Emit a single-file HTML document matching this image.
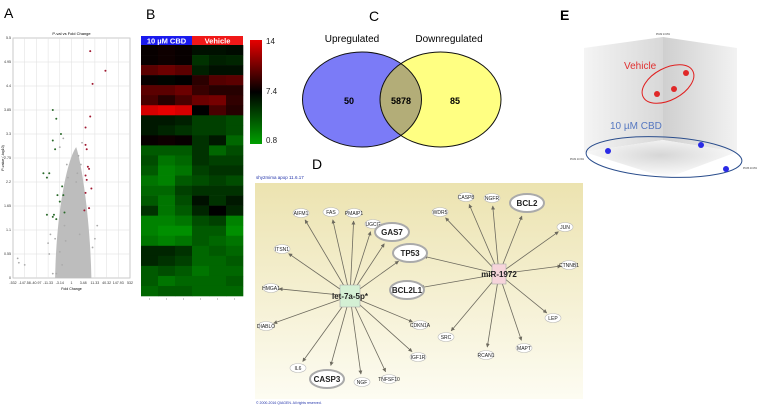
<!DOCTYPE html>
<html><head><meta charset="utf-8"><style>
body{margin:0;background:#fff;width:760px;height:408px;overflow:hidden;font-family:"Liberation Sans",sans-serif}
svg{display:block}
</style></head><body>
<svg id="fig" width="760" height="408" viewBox="0 0 760 408" xmlns="http://www.w3.org/2000/svg">
<defs>
<linearGradient id="dbg" x1="0" y1="0" x2="0" y2="1"><stop offset="0" stop-color="#ece3b0"/><stop offset="1" stop-color="#fdfcf2"/></linearGradient>
<linearGradient id="hm" x1="0" y1="0" x2="0" y2="1"><stop offset="0" stop-color="#e60000"/><stop offset="0.5" stop-color="#000"/><stop offset="1" stop-color="#00a000"/></linearGradient>
<linearGradient id="lf" x1="0" y1="0" x2="1" y2="0"><stop offset="0" stop-color="#f4f4f4"/><stop offset="1" stop-color="#d8d8d8"/></linearGradient>
<linearGradient id="rf" x1="0" y1="0" x2="1" y2="0"><stop offset="0" stop-color="#cfcfcf"/><stop offset="1" stop-color="#f2f2f2"/></linearGradient>
<radialGradient id="fl" cx="0.5" cy="0.4" r="0.6"><stop offset="0" stop-color="#d6d6d6"/><stop offset="1" stop-color="#fff"/></radialGradient>
<marker id="arr" viewBox="0 0 10 10" refX="9" refY="5" markerWidth="5" markerHeight="5" orient="auto"><path d="M0,0L10,5L0,10z" fill="#6d6a5e"/></marker>
</defs>
<g font-size="14" fill="#000">
<text x="4" y="18">A</text>
<text x="146" y="19">B</text>
<text x="369" y="21">C</text>
<text x="312" y="169">D</text>
<text x="560" y="20" font-weight="bold">E</text>
</g>
<g id="volcano"></g>
<g id="heat"></g>
<g id="venn">
<ellipse cx="362" cy="99.5" rx="59.5" ry="47.5" fill="#7b7bf7"/>
<ellipse cx="440.5" cy="99.5" rx="60.5" ry="47.5" fill="#ffff82"/>
<clipPath id="cb"><ellipse cx="362" cy="99.5" rx="59.5" ry="47.5"/></clipPath>
<ellipse cx="440.5" cy="99.5" rx="60.5" ry="47.5" fill="#b3ad78" clip-path="url(#cb)"/>
<ellipse cx="362" cy="99.5" rx="59.5" ry="47.5" fill="none" stroke="#111" stroke-width="1"/>
<ellipse cx="440.5" cy="99.5" rx="60.5" ry="47.5" fill="none" stroke="#111" stroke-width="1"/>
<text x="352" y="42" font-size="10" text-anchor="middle">Upregulated</text>
<text x="449" y="42" font-size="10" text-anchor="middle">Downregulated</text>
<text x="349" y="104" font-size="9" font-weight="bold" text-anchor="middle">50</text>
<text x="401" y="104" font-size="9" font-weight="bold" text-anchor="middle">5878</text>
<text x="455" y="104" font-size="9" font-weight="bold" text-anchor="middle">85</text>
</g>
<g id="net">
<rect x="255" y="183" width="328" height="216" fill="url(#dbg)"/>
<text x="256" y="179" font-size="4.5" fill="#2233aa">shy2mima apop 11.6.17</text>
<text x="256" y="404" font-size="3.5" fill="#2233aa">© 2000-2016 QIAGEN. All rights reserved.</text>
</g>
<g id="pca">
<polygon points="584,48 663,37 663,140 584,152" fill="url(#lf)"/>
<polygon points="663,37 737,48 737,152 663,140" fill="url(#rf)"/>
<polygon points="584,152 663,140 737,152 667,178" fill="url(#fl)"/>
<text x="663" y="35" font-size="2.5" text-anchor="middle" fill="#333">PC#2 13.8%</text>
<text x="577" y="160" font-size="2.5" text-anchor="middle" fill="#333">PC#1 10.9%</text>
<text x="750" y="169" font-size="2.5" text-anchor="middle" fill="#333">PC#3 10.8%</text>
<ellipse cx="668" cy="84" rx="28" ry="16" transform="rotate(-28 668 84)" fill="none" stroke="#e02020" stroke-width="1"/>
<ellipse cx="664" cy="157" rx="78" ry="20" transform="rotate(3 664 157)" fill="none" stroke="#2a4d8c" stroke-width="1"/>
<text x="624" y="69" font-size="10" fill="#e03030">Vehicle</text>
<text x="610" y="129" font-size="10" fill="#5577c0">10 µM CBD</text>
</g>
</svg>
<script>
var NS="http://www.w3.org/2000/svg";
function mk(p,t,a){var e=document.createElementNS(NS,t);for(var k in a)e.setAttribute(k,a[k]);p.appendChild(e);return e;}
// ---- Volcano data ----
var volXTicks=["-532","-147.58","-40.97","-11.33","-3.14","1","3.48","11.33","40.32","147.93","532"];
var volYTicks=["0","0.55","1.1","1.65","2.2","2.75","3.3","3.85","4.4","4.95","5.5"];
var upX=[1.6,2.9,1.8,1.6,1.2,1.2,1.3,1.4,1.5,1.2,1.3,1.7,1.2,1.5,1.1];
var upY=[5.2,4.75,4.45,3.7,3.45,3.05,2.95,2.55,2.5,2.35,2.25,2.05,1.95,1.6,1.55];
var downX=[-1.6,-1.3,-0.9,-1.6,-1.4,-2.4,-1.9,-2.1,-2.1,-1.5,-0.8,-1.2,-0.7,-1.0,-0.6,-1.3,-1.6];
var downY=[3.85,3.65,3.3,3.15,2.95,2.4,2.4,2.3,1.45,1.45,2.1,1.9,1.9,1.75,1.5,1.35,1.4];
var grayX=[-4.6,-4.5,-4.0,-1.9,-1.0,-0.7,-0.4,-0.3,0.6,0.8,0.9,0.5,0.4,-0.6,-1.4,-1.6,-1.3,-0.5,0.7,-1.0,-0.8,2.2,2.0,1.8,-1.8,-2.0];
var grayY=[0.45,0.35,0.3,0.55,3.0,3.2,2.6,2.3,2.8,2.6,3.1,2.4,2.2,1.2,0.9,0.1,0.1,0.85,1.0,0.6,0.3,1.2,0.9,0.7,1.0,0.8];
(function(){
 var g=document.getElementById('volcano');
 var L=13,R=130,T=38,B=278;
 function sx(v){return L+(v+5)/10*(R-L);} function sy(v){return B-v/5.5*(B-T);}
 mk(g,'rect',{x:L,y:T,width:R-L,height:B-T,fill:'#fff',stroke:'#888','stroke-width':0.6});
 for(var i=0;i<volXTicks.length;i++){var x=sx(i-5);mk(g,'line',{x1:x,y1:T,x2:x,y2:B,stroke:'#ddd','stroke-width':0.5});
  var t=mk(g,'text',{x:x,y:B+6,'font-size':3.6,'text-anchor':'middle',fill:'#333'});t.textContent=volXTicks[i];}
 for(var j=0;j<volYTicks.length;j++){var y=sy(j*0.55);mk(g,'line',{x1:L,y1:y,x2:R,y2:y,stroke:'#ddd','stroke-width':0.5});
  var t2=mk(g,'text',{x:L-2,y:y+1,'font-size':3.6,'text-anchor':'end',fill:'#333'});t2.textContent=volYTicks[j];}
 var tt=mk(g,'text',{x:(L+R)/2,y:T-3,'font-size':4,'text-anchor':'middle'});tt.textContent='P-val vs Fold Change';
 var xt=mk(g,'text',{x:(L+R)/2,y:B+12,'font-size':3.6,'text-anchor':'middle'});xt.textContent='Fold Change';
 var yt=mk(g,'text',{x:4,y:(T+B)/2,'font-size':3.6,'text-anchor':'middle',transform:'rotate(-90 4 '+(T+B)/2+')'});yt.textContent='P-value (-log10)';
 var blob=mk(g,'path',{d:'M'+sx(-1.4)+','+B+' C'+sx(-1.3)+','+sy(1.5)+' '+sx(-0.4)+','+sy(2.7)+' '+sx(0.4)+','+sy(3.0)+' C'+sx(0.9)+','+sy(2.6)+' '+sx(1.6)+','+sy(1.3)+' '+sx(1.7)+','+B+'Z',fill:'#bdbdbd'});
 
 
 for(var a=0;a<grayX.length;a++){var c=mk(g,'circle',{cx:sx(grayX[a]),cy:sy(grayY[a]),r:0.9,fill:'#aaa'});
  
  }
 for(var b=0;b<upX.length;b++){var c2=mk(g,'circle',{cx:sx(upX[b]),cy:sy(upY[b]),r:1,fill:'#a01830'});
  
  }
 for(var d=0;d<downX.length;d++){var c3=mk(g,'circle',{cx:sx(downX[d]),cy:sy(downY[d]),r:1,fill:'#2a6a2a'});
  
  }
})();
// ---- Heatmap data ----
var hmGroups=["10 µM CBD","Vehicle"];
var hmScale=["14","7.4","0.8"];
var hmRows=[
[7.6,7.8,7.6,6.8,6.8,7.0],[7.6,7.8,7.6,5.5,6.2,6.0],[10,10.5,10,6.2,6.8,6.8],[7.6,7.2,7.4,8.6,9.8,10],
[10,10,10.5,9,8.5,8.5],[9.5,8.5,9.5,10.5,10.8,8.8],[13.5,14,13.5,7.4,9.5,8.5],[6.5,6.5,6.2,5,5,4.5],
[6.5,6.0,5.5,5,5,4.5],[7.6,7.8,7.6,5.5,6.5,3.5],[4,4,4,5.5,3.5,4.5],[4.5,3,3.5,5.5,5,5],
[4,2.5,3,5,5.5,5.5],[3,2.5,4,4.5,5,4.5],[3.5,3.5,5,5.5,5.5,5.5],[4,3,4.5,6.8,5.5,6.5],
[5.5,3,4,6,7.4,6],[2.5,2.5,3,4.5,5,2.5],[2.5,2,2,4,4,2],[3,2.5,3,4,3.5,3],
[6,6,5.5,3.5,4,3.5],[6,5.5,5,3.5,3.5,4],[4,4.5,4,3,3.5,3.5],[4,3,3.5,3.5,3.5,4],[3.5,4,4,3.5,3.5,3.5]];
(function(){
 var g=document.getElementById('heat');
 var L=141,R=243,T=45,B=296,cw=(R-L)/6,rh=(B-T)/hmRows.length;
 function col(v){if(v>=7.4){var f=(v-7.4)/6.6;return 'rgb('+Math.round(230*f)+',0,0)';}var f2=(7.4-v)/6.6;return 'rgb(0,'+Math.round(175*f2)+',0)';}
 var h1=mk(g,'rect',{x:L,y:36,width:(R-L)/2,height:9,fill:'#1a1aee'});
 
 
 var h2=mk(g,'rect',{x:L+(R-L)/2,y:36,width:(R-L)/2,height:9,fill:'#f01818'});
 
 
 for(var k=0;k<2;k++){var t=mk(g,'text',{x:L+(R-L)/4*(1+2*k),y:43.5,'font-size':7.5,'font-weight':'bold','text-anchor':'middle',fill:'#fff'});t.textContent=hmGroups[k];}
 for(var r=0;r<hmRows.length;r++)for(var c=0;c<6;c++){
  var e=mk(g,'rect',{x:L+c*cw,y:T+r*rh,width:cw+0.3,height:rh+0.3,fill:col(hmRows[r][c])});
  
  }
 var cb=mk(g,'rect',{x:250,y:40,width:12,height:104,fill:'url(#hm)'});
 
 
 var ys=[44,94,143];
 for(var s=0;s<3;s++){var t3=mk(g,'text',{x:266,y:ys[s],'font-size':8,fill:'#222'});t3.textContent=hmScale[s];}
 for(var c4=0;c4<6;c4++)mk(g,'line',{x1:L+cw*(c4+0.5),y1:298,x2:L+cw*(c4+0.5),y2:300,stroke:'#999','stroke-width':0.5});
})();
// ---- Network ----
var netNodes=[
["let-7a-5p*",350,296,"hub1"],["miR-1972",499,274,"hub2"],
["AIFM1",301,213,"s"],["FAS",331,212,"s"],["PMAIP1",354,213,"s"],["UGCG",373,224,"s"],["GAS7",392,232,"L"],["TP53",410,253,"L"],
["BCL2L1",407,290,"L"],["ITSN1",282,249,"s"],["HMGA1",271,288,"s"],["DIABLO",266,326,"s"],["CDKN1A",420,325,"s"],["IGF1R",418,357,"s"],
["TNFSF10",389,379,"s"],["NGF",362,382,"s"],["CASP3",327,379,"L"],["IL6",298,368,"s"],
["SRC",446,337,"s"],["RCAN1",486,355,"s"],["MAPT",524,348,"s"],["LEP",553,318,"s"],["CTNNB1",569,265,"s"],["JUN",565,227,"s"],
["BCL2",527,203,"L"],["NGFR",492,198,"s"],["CASP8",466,197,"s"],["WDR5",440,212,"s"]];
var netEdges1=["AIFM1","FAS","PMAIP1","UGCG","GAS7","TP53","ITSN1","HMGA1","DIABLO","CDKN1A","IGF1R","TNFSF10","NGF","CASP3","IL6"];
var netEdges2=["TP53","BCL2L1","SRC","RCAN1","MAPT","LEP","CTNNB1","JUN","BCL2","NGFR","CASP8","WDR5"];
(function(){
 var g=document.getElementById('net');var pos={};
 netNodes.forEach(function(n){pos[n[0]]=n;});
 function edge(a,b){var A=pos[a],B=pos[b];var dx=B[1]-A[1],dy=B[2]-A[2],d=Math.sqrt(dx*dx+dy*dy);var sh=B[3]=="L"?14:8;
  var l=mk(g,'line',{x1:A[1],y1:A[2],x2:B[1]-dx/d*sh,y2:B[2]-dy/d*sh,stroke:'#6d6a5e','stroke-width':0.8,'marker-end':'url(#arr)'});
  
  }
 netEdges1.forEach(function(t){edge("let-7a-5p*",t);});
 netEdges2.forEach(function(t){edge("miR-1972",t);});
 netNodes.forEach(function(n){var e;
  if(n[3]=="hub1"){e=mk(g,'rect',{x:n[1]-10,y:n[2]-11,width:20,height:22,fill:'#d4f0d4',stroke:'#aaa','stroke-width':0.6});}
  else if(n[3]=="hub2"){e=mk(g,'rect',{x:n[1]-7,y:n[2]-10,width:14,height:20,fill:'#f6d4da',stroke:'#aaa','stroke-width':0.6});}
  else if(n[3]=="L"){e=mk(g,'ellipse',{cx:n[1],cy:n[2],rx:17,ry:9,fill:'#fff',stroke:'#aaa','stroke-width':2});}
  else{e=mk(g,'ellipse',{cx:n[1],cy:n[2],rx:8,ry:4.5,fill:'#fff',stroke:'#bbb','stroke-width':0.6});}
  
  
  var big=n[3]!="s";
  var t=mk(g,'text',{x:n[1],y:n[2]+(big?3:2),'font-size':big?8:5,'font-weight':big?'bold':'normal','text-anchor':'middle',fill:'#222'});t.textContent=n[0];});
})();
// ---- PCA ----
var pcaVehX=[657,674,686],pcaVehY=[94,89,73];
var pcaCbdX=[608,701,726],pcaCbdY=[151,145,169];
(function(){
 var g=document.getElementById('pca');
 for(var i=0;i<3;i++){var c=mk(g,'circle',{cx:pcaVehX[i],cy:pcaVehY[i],r:3,fill:'#e02828'});
  
  }
 for(var j=0;j<3;j++){var c2=mk(g,'circle',{cx:pcaCbdX[j],cy:pcaCbdY[j],r:3,fill:'#2a2ae6'});
  
  }
})();
</script>
</body></html>
